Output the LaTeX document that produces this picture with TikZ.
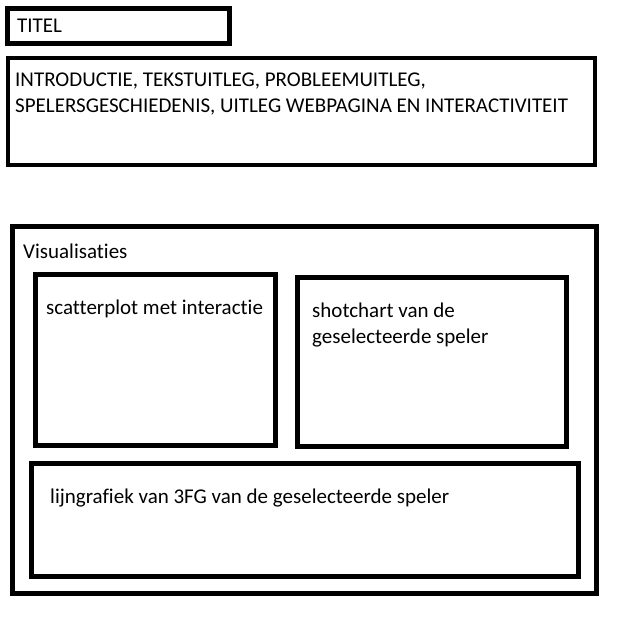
\documentclass[tikz,border=0pt]{standalone}
\usepackage{fontspec}
\setmainfont[Ligatures={CommonOff,ContextualOff}]{Carlito}
\begin{document}
\begin{tikzpicture}[
  x=1pt, y=-1pt,
  box/.style={draw, line width=4.6pt, inner sep=0pt, outer sep=0pt, anchor=north west},
  txt/.style={anchor=base west, inner sep=0pt, align=left,
    font=\fontsize{21pt}{25.5pt}\selectfont}]

\useasboundingbox (0,0) rectangle (622,622);

% Boxes of the page layout
\node[box, minimum width=222pt, minimum height=35pt]  (titel)   at (7.5,8.5)    {};
\node[box, minimum width=587pt, minimum height=107pt] (intro)   at (8,58)       {};
\node[box, minimum width=584pt, minimum height=367pt] (vis)     at (12.5,226.5) {};
\node[box, minimum width=240pt, minimum height=171pt] (scatter) at (35.5,274.5) {};
\node[box, minimum width=269pt, minimum height=169pt] (shot)    at (297.5,277.5){};
\node[box, minimum width=547pt, minimum height=113pt] (lijn)    at (31.5,463.5) {};

% Texts in the boxes (base = last line for two-line texts)
\node[txt] (titelText)   at (17,32)  {TITEL};
\node[txt] (introText)   at (15,112) {INTRODUCTIE, TEKSTUITLEG, PROBLEEMUITLEG,\\SPELERSGESCHIEDENIS, UITLEG WEBPAGINA EN INTERACTIVITEIT};
\node[txt] (visText)     at (23,258) {Visualisaties};
\node[txt] (scatterText) at (46,314) {scatterplot met interactie};
\node[txt] (shotText)    at (312,343) {shotchart van de\\geselecteerde speler};
\node[txt] (lijnText)    at (50,503) {lijngrafiek van 3FG van de geselecteerde speler};

\end{tikzpicture}
\end{document}
